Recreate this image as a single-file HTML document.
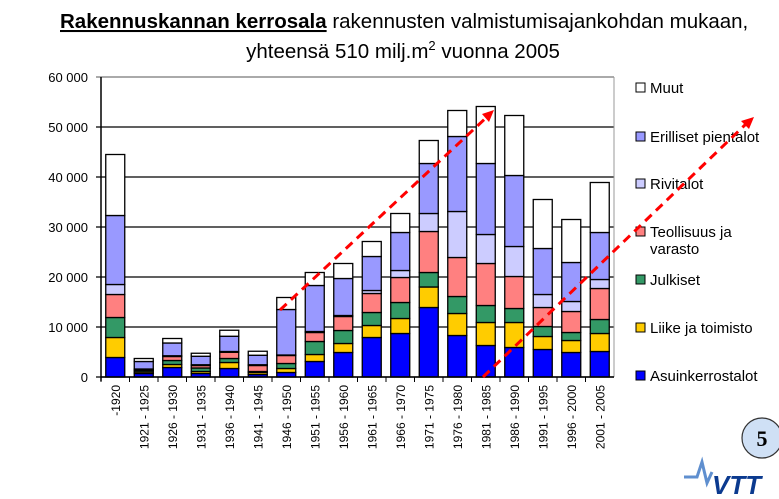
<!DOCTYPE html>
<html><head><meta charset="utf-8"><style>
body{margin:0;background:#fff;width:779px;height:494px;overflow:hidden;font-family:"Liberation Sans",sans-serif}
svg text{font-family:"Liberation Sans",sans-serif}
</style></head><body>
<svg id="c" width="779" height="494" xmlns="http://www.w3.org/2000/svg">
<text x="60" y="28" font-size="20.5"><tspan font-weight="bold" text-decoration="underline">Rakennuskannan kerrosala</tspan> rakennusten valmistumisajankohdan mukaan,</text>
<text x="403" y="58" font-size="20.5" text-anchor="middle">yhteensä 510 milj.m<tspan dy="-8" font-size="13">2</tspan><tspan dy="8"> vuonna 2005</tspan></text>
<g id="grid"></g><g id="bars"></g><g id="xl"></g><g id="leg"></g>
<line x1="280" y1="310" x2="488" y2="116" stroke="#f00" stroke-width="3" stroke-dasharray="9,6"/>
<polygon points="494,110 482,114 489,122" fill="#f00"/>
<line x1="483" y1="377" x2="747" y2="123" stroke="#f00" stroke-width="3" stroke-dasharray="9,6"/>
<polygon points="754,117 741,121 749,129" fill="#f00"/>
<circle cx="762" cy="438" r="20" fill="#cfe0f5" stroke="#333" stroke-width="1.2"/>
<text x="762" y="446" font-size="22" font-weight="bold" text-anchor="middle" style="font-family:'Liberation Serif',serif">5</text>
<g>
<polyline points="684,477 697,477 702,462 707,483 712,472" fill="none" stroke="#5f8fcf" stroke-width="3"/>
<text x="712" y="494" font-size="26" font-weight="bold" font-style="italic" fill="#0b3a8f">VTT</text>
</g>
</svg>
<script>
const categories=["-1920","1921 - 1925","1926 - 1930","1931 - 1935","1936 - 1940","1941 - 1945","1946 - 1950","1951 - 1955","1956 - 1960","1961 - 1965","1966 - 1970","1971 - 1975","1976 - 1980","1981 - 1985","1986 - 1990","1991 - 1995","1996 - 2000","2001 - 2005"];
const asuinkerrostalot=[3900,700,1900,700,1700,500,900,3100,4900,7900,8700,13900,8300,6300,5900,5500,4900,5100];
const liike=[4000,300,600,400,1200,400,800,1400,1800,2400,3000,4100,4400,4600,5000,2600,2400,3600];
const julkiset=[4000,300,800,700,800,200,1000,2600,2600,2600,3200,2900,3400,3400,2800,2000,1600,2800];
const teollisuus=[4600,200,800,500,1250,1200,1600,1800,2800,3800,5000,8200,7800,8400,6400,3800,4200,6200];
const rivitalot=[2000,100,150,150,150,150,100,200,200,600,1400,3600,9200,5800,6000,2600,2000,1800];
const erilliset=[13800,1500,2550,1700,3050,1900,9100,9200,7400,6800,7600,10000,15000,14200,14200,9200,7800,9400];
const muut=[12200,600,900,600,1200,800,2400,2600,3000,3000,3800,4600,5200,11400,12000,9800,8600,10000];
const yTicks=[0,10000,20000,30000,40000,50000,60000];
const yTickLabels=["0","10 000","20 000","30 000","40 000","50 000","60 000"];
const seriesNames=["Asuinkerrostalot","Liike ja toimisto","Julkiset","Teollisuus ja varasto","Rivitalot","Erilliset pientalot","Muut"];
const series=[asuinkerrostalot,liike,julkiset,teollisuus,rivitalot,erilliset,muut];
const colors=["#0000ff","#ffcc00","#339966","#ff8080","#ccccff","#9999ff","#ffffff"];
const NS="http://www.w3.org/2000/svg";
const X0=101,X1=614,Y0=377,Y1=77,YMAX=60000;
const step=(X1-X0)/categories.length,BW=19;
const y=v=>Y0-(v/YMAX)*(Y0-Y1);
const xc=i=>X0+step*(i+0.5);
function mk(t,a,p){const e=document.createElementNS(NS,t);for(const k in a)e.setAttribute(k,a[k]);p.appendChild(e);return e;}
const g=document.getElementById('grid');
yTicks.forEach((v,i)=>{
  const l=mk('line',{x1:X0-5,x2:X1,y1:y(v),y2:y(v),stroke:i==yTicks.length-1?'#777':'#000','stroke-width':1.3},g);
  
  
  const t=mk('text',{x:88,y:y(v)+5,'font-size':13,'text-anchor':'end'},g);
  t.textContent=yTickLabels[i];
  
  
});
const ax=mk('line',{x1:X0,x2:X0,y1:Y1,y2:Y0+4,stroke:'#000','stroke-width':1.5},g);


const rb=mk('line',{x1:X1,x2:X1,y1:Y1,y2:Y0,stroke:'#999','stroke-width':1},g);


const b=document.getElementById('bars');
categories.forEach((c,i)=>{
  let acc=0;
  series.forEach((s,k)=>{
    const r=mk('rect',{x:xc(i)-BW/2,width:BW,y:y(acc+s[i]),height:y(acc)-y(acc+s[i]),fill:colors[k],stroke:'#000','stroke-width':1.3},b);
    
    
    acc+=s[i];
  });
  const tk=mk('line',{x1:X0+step*i,x2:X0+step*i,y1:Y0,y2:Y0+5,stroke:'#000'},b);
  
  
  const t=mk('text',{x:0,y:0,'font-size':12,'text-anchor':'end',transform:`translate(${xc(i)+4.5},${Y0+8}) rotate(-90)`},document.getElementById('xl'));
  t.textContent=c;
  
  
});
const axb=mk('line',{x1:X0,x2:X1,y1:Y0,y2:Y0,stroke:'#000','stroke-width':1.5},b);


const lg=document.getElementById('leg');
const legY=[381,333,285,237,189,142,93];
seriesNames.forEach((n,k)=>{
  const r=mk('rect',{x:636,y:legY[k]-10,width:9,height:9,fill:colors[k],stroke:'#000','stroke-width':1},lg);
  
  
  const t=mk('text',{x:650,y:legY[k],'font-size':15},lg);
  
  
  if(n==="Teollisuus ja varasto"){
    const a=mk('tspan',{x:650},t);a.textContent="Teollisuus ja";
    const bb=mk('tspan',{x:650,dy:17},t);bb.textContent="varasto";
  } else t.textContent=n;
});
</script>
</body></html>
